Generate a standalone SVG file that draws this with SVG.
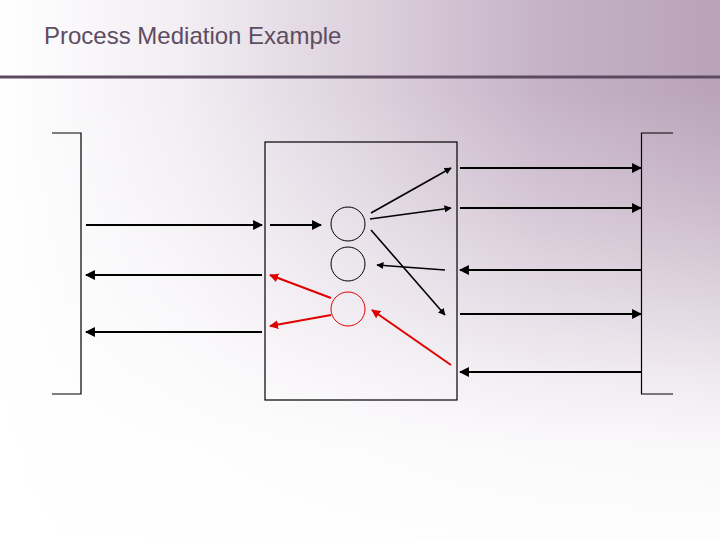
<svg xmlns="http://www.w3.org/2000/svg" width="720" height="540" viewBox="0 0 720 540">
<defs>
<linearGradient id="bgh" x1="0" y1="0" x2="720" y2="0" gradientUnits="userSpaceOnUse">
<stop offset="0" stop-color="#ffffff"/>
<stop offset="0.25" stop-color="#f2eef3"/>
<stop offset="0.5" stop-color="#ddd2de"/>
<stop offset="0.75" stop-color="#c6b3c7"/>
<stop offset="1" stop-color="#b9a3b9"/>
</linearGradient>
<linearGradient id="bgv" x1="0" y1="0" x2="0" y2="540" gradientUnits="userSpaceOnUse">
<stop offset="0" stop-color="#ffffff" stop-opacity="0"/>
<stop offset="0.17" stop-color="#ffffff" stop-opacity="0"/>
<stop offset="0.37" stop-color="#ffffff" stop-opacity="0.25"/>
<stop offset="0.56" stop-color="#ffffff" stop-opacity="0.55"/>
<stop offset="0.69" stop-color="#ffffff" stop-opacity="0.76"/>
<stop offset="0.83" stop-color="#ffffff" stop-opacity="0.93"/>
<stop offset="1" stop-color="#ffffff" stop-opacity="0.98"/>
</linearGradient>
<marker id="ah" viewBox="0 0 10 10" refX="9" refY="5" markerWidth="4.5" markerHeight="4.5" markerUnits="strokeWidth" orient="auto">
<path d="M0,0 L10,5 L0,10 z" fill="#000"/>
</marker>
<marker id="ahr" viewBox="0 0 10 10" refX="9" refY="5" markerWidth="4.5" markerHeight="4.5" markerUnits="strokeWidth" orient="auto">
<path d="M0,0 L10,5 L0,10 z" fill="#e00000"/>
</marker>
<style>
.blk{stroke:#000;stroke-width:2.2;fill:none;marker-end:url(#ah)}
.thin{stroke:#000;stroke-width:1.6;fill:none;marker-end:url(#ah)}
.red{stroke:#e00000;stroke-width:2;fill:none;marker-end:url(#ahr)}
.frame{stroke:#000;stroke-width:1.2;fill:none}
</style>
</defs>
<rect width="720" height="540" fill="url(#bgh)"/>
<rect width="720" height="540" fill="url(#bgv)"/>
<text x="44" y="44" font-family="Liberation Sans, Arial, sans-serif" font-size="24" fill="#5d4c62">Process Mediation Example</text>
<rect x="0" y="75.5" width="720" height="3" fill="#5b4a60"/>

<g id="left-system">
<path class="frame" d="M52,133 H81 V394 H52"/>
</g>
<g id="right-system">
<path class="frame" d="M673,133 H641.5 V394 H673"/>
</g>
<g id="mediator">
<rect x="265" y="142" width="192" height="258" fill="none" stroke="#000" stroke-width="1.2"/>
</g>
<g id="process-1"><circle cx="348" cy="224" r="17" fill="none" stroke="#000" stroke-width="1"/></g>
<g id="process-2"><circle cx="348" cy="264" r="17" fill="none" stroke="#000" stroke-width="1"/></g>
<g id="process-3"><circle cx="348" cy="309" r="17" fill="none" stroke="#e00000" stroke-width="1"/></g>

<g id="connectors">
<line class="blk" x1="86" y1="225" x2="262" y2="225"/>
<line class="blk" x1="262" y1="275" x2="86" y2="275"/>
<line class="blk" x1="262" y1="332" x2="86" y2="332"/>
<line class="blk" x1="270" y1="225" x2="321" y2="225"/>
<line class="thin" x1="371" y1="213" x2="451" y2="168"/>
<line class="thin" x1="370" y1="219" x2="451" y2="208"/>
<line class="thin" x1="371" y1="230" x2="445" y2="315"/>
<line class="thin" x1="445" y1="270" x2="377" y2="265"/>
<line class="red" x1="331" y1="298" x2="270" y2="275"/>
<line class="red" x1="331" y1="315" x2="270" y2="326"/>
<line class="red" x1="451" y1="365" x2="372" y2="310"/>
<line class="blk" x1="460" y1="168" x2="641" y2="168"/>
<line class="blk" x1="460" y1="208" x2="641" y2="208"/>
<line class="blk" x1="641" y1="270" x2="460" y2="270"/>
<line class="blk" x1="460" y1="314" x2="641" y2="314"/>
<line class="blk" x1="641" y1="372" x2="460" y2="372"/>
</g>
</svg>
